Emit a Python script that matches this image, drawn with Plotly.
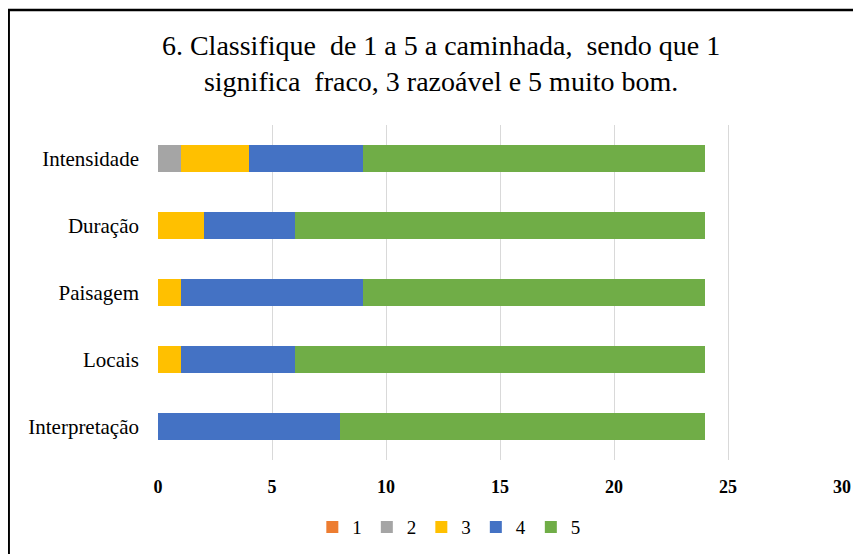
import plotly.graph_objects as go

FONT = "Liberation Serif"

# categories bottom -> top, as drawn
aspects = ["Interpretação", "Locais", "Paisagem", "Duração", "Intensidade"]
ratings = ["1", "2", "3", "4", "5"]
count_1 = [0, 0, 0, 0, 0]
count_2 = [0, 0, 0, 0, 1]
count_3 = [0, 1, 1, 2, 3]
count_4 = [8, 5, 8, 4, 5]
count_5 = [16, 18, 15, 18, 15]
colors = ["#ED7D31", "#A5A5A5", "#FFC000", "#4472C4", "#70AD47"]

fig = go.Figure()
for name, vals, col in zip(ratings, [count_1, count_2, count_3, count_4, count_5], colors):
    fig.add_trace(go.Bar(
        y=aspects, x=vals, name=name, orientation="h",
        marker=dict(color=col, line=dict(width=0)),
    ))

# page body adds an 8px offset, margins are compensated for it
fig.update_layout(
    barmode="stack",
    bargap=0.6,
    width=861, height=554,
    paper_bgcolor="white", plot_bgcolor="white",
    margin=dict(l=150, r=27, t=117, b=102),
    font=dict(family=FONT, color="#000000"),
    title=dict(
        text="6. Classifique  de 1 a 5 a caminhada,  sendo que 1<br>significa  fraco, 3 razoável e 5 muito bom.",
        font=dict(family=FONT, size=28, color="#000000"),
        xref="container", x=0.503, xanchor="center",
        yref="container", y=0.915, yanchor="middle",
    ),
    legend=dict(
        orientation="h",
        xref="container", x=0.512, xanchor="center",
        yref="container", y=0.063, yanchor="middle",
        font=dict(family=FONT, size=19, color="#000000"),
        traceorder="normal",
        itemwidth=30,
    ),
    showlegend=True,
)
fig.update_xaxes(
    range=[0, 30], dtick=5, showgrid=True, gridcolor="#D9D9D9", gridwidth=1,
    zeroline=False, showline=False,
    tickfont=dict(family=FONT, size=18, color="#000000", weight="bold"),
    ticklabelstandoff=14,
)
fig.update_yaxes(
    categoryorder="array", categoryarray=aspects,
    showgrid=False, zeroline=False, showline=False,
    tickfont=dict(family=FONT, size=21, color="#000000"),
    ticklabelstandoff=18,
)
# outer chart frame (left and top edges visible in the reference)
fig.add_shape(type="rect", xref="paper", yref="paper",
              x0=-0.2183, x1=1.2, y0=-0.5, y1=1.3433,
              line=dict(color="#000000", width=2.5), layer="above")

fig.write_html("out.html")
